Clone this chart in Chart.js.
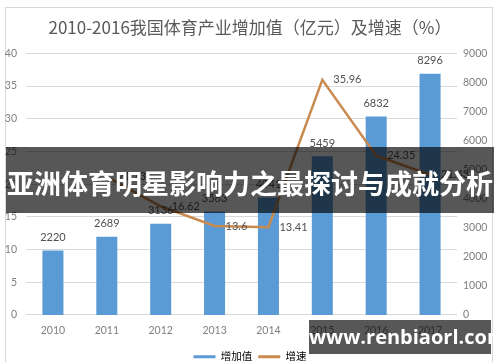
<!DOCTYPE html>
<html><head><meta charset="utf-8">
<script src="https://cdn.jsdelivr.net/npm/chart.js@4/dist/chart.umd.min.js"></script>
<style>
html,body{margin:0;padding:0;background:#fff;width:500px;height:362px;overflow:hidden;}
#wrap{position:relative;width:500px;height:362px;overflow:hidden;background:#fff;}
#frame{position:absolute;left:5px;top:7px;width:488px;height:400px;border:1px solid #d9d9d9;box-sizing:border-box;}
canvas{position:absolute;left:0;top:0;}
.band{position:absolute;background:rgba(0,0,0,0.66);color:#fff;font-weight:bold;white-space:nowrap;text-align:center;}
#b1{left:6px;top:147px;width:488px;height:66px;line-height:72px;font-size:27px;font-family:"Noto Sans CJK SC";}
#b2{left:309px;top:320px;width:182px;height:34px;line-height:34px;font-size:20px;font-family:"Open Sans";}
</style></head>
<body><div id="wrap"><div id="frame"></div><canvas id="c" width="500" height="372"></canvas>
<div class="band" id="b1">亚洲体育明星影响力之最探讨与成就分析</div>
<div class="band" id="b2">www.renbiaorl.com</div></div>
<script>
const titleText = '2010-2016我国体育产业增加值（亿元）及增速（%）';
const categories = ['2010','2011','2012','2013','2014','2015','2016','2017'];
const valueSeries = [2220, 2689, 3136, 3563, 4041, 5459, 6832, 8296];
const growthSeries = [null, 21.13, 16.62, 13.6, 13.41, 35.96, 24.35, 21.43];
const seriesNames = ['增加值', '增速'];
const leftTickValues = [0, 5, 10, 15, 20, 25, 30, 35, 40];
const rightTickValues = [0, 1000, 2000, 3000, 4000, 5000, 6000, 7000, 8000, 9000];

const FAM = 'Lato, "Noto Sans CJK SC", sans-serif';
const BLUE = '#5B9BD5';
const ORANGE = '#c98a4f';

const labelPlugin = {
  id: 'dl',
  afterDatasetsDraw(chart) {
    const ctx = chart.ctx;
    ctx.save();
    ctx.font = '11px ' + FAM;
    ctx.fillStyle = '#505050';
    ctx.textBaseline = 'middle';
    chart.getDatasetMeta(0).data.forEach((el, i) => {
      ctx.textAlign = 'center';
      ctx.fillText(String(valueSeries[i]), el.x, el.y - 13);
    });
    chart.getDatasetMeta(1).data.forEach((el, i) => {
      if (growthSeries[i] == null) return;
      ctx.textAlign = 'left';
      ctx.fillText(String(growthSeries[i]), el.x + 11, el.y);
    });
    ctx.restore();
  }
};

new Chart(document.getElementById('c'), {
  data: {
    labels: categories,
    datasets: [
      { type: 'bar', label: seriesNames[0], data: valueSeries, yAxisID: 'y1', backgroundColor: BLUE,
        categoryPercentage: 1, barPercentage: 0.39, order: 2 },
      { type: 'line', label: seriesNames[1], data: growthSeries, yAxisID: 'y', borderColor: ORANGE,
        borderWidth: 2.5, pointRadius: 0, tension: 0, fill: false, order: 1 }
    ]
  },
  options: {
    responsive: false,
    animation: false,
    devicePixelRatio: 1,
    layout: { padding: { left: 0, right: 0, top: 0, bottom: 0 } },
    plugins: {
      title: { display: true, text: titleText, color: '#595959',
        font: { size: 17, weight: 'normal', family: '"Noto Sans CJK SC", sans-serif' },
        padding: { top: 17, bottom: 16 } },
      legend: {
        position: 'bottom',
        labels: {
          usePointStyle: true, pointStyleWidth: 22, padding: 6, color: '#595959',
          font: { size: 10.5, family: FAM },
          generateLabels() {
            return [
              { text: seriesNames[0], fillStyle: BLUE, strokeStyle: BLUE, lineWidth: 3, pointStyle: 'line', datasetIndex: 0, hidden: false },
              { text: seriesNames[1], fillStyle: ORANGE, strokeStyle: ORANGE, lineWidth: 3, pointStyle: 'line', datasetIndex: 1, hidden: false }
            ];
          }
        }
      },
      tooltip: { enabled: false }
    },
    scales: {
      x: { grid: { display: false, drawTicks: false, tickLength: 0 }, border: { display: false },
        ticks: { color: '#7f7f7f', font: { size: 10.5, family: FAM }, padding: 9, maxRotation: 0 } },
      y: { position: 'left', min: 0, max: 40,
        grid: { color: '#d9d9d9', drawTicks: false }, border: { display: false },
        ticks: { color: '#7f7f7f', font: { size: 10.5, family: FAM }, padding: 9 },
        afterBuildTicks(s) { s.ticks = leftTickValues.map(v => ({ value: v })); },
        afterFit(s) { s.width = 26; } },
      y1: { position: 'right', min: 0, max: 9000,
        grid: { display: false, drawTicks: false }, border: { display: false },
        ticks: { color: '#7f7f7f', font: { size: 10.5, family: FAM }, padding: 6,
          callback: (v) => String(v) },
        afterBuildTicks(s) { s.ticks = rightTickValues.map(v => ({ value: v })); },
        afterFit(s) { s.width = 43; } }
    }
  },
  plugins: [labelPlugin]
});
</script></body></html>
